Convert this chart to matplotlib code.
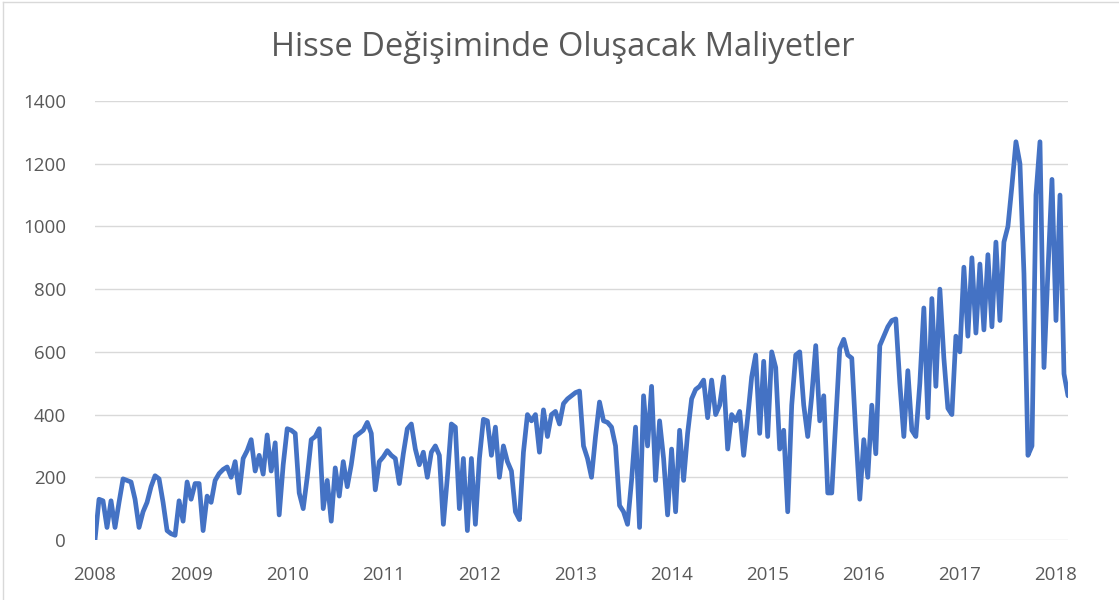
import numpy as np
import matplotlib
matplotlib.use("Agg")
import matplotlib.pyplot as plt
from matplotlib.lines import Line2D

plt.rcParams['font.family'] = ['Open Sans', 'DejaVu Sans']

title = 'Hisse Değişiminde Oluşacak Maliyetler'
year_ticks = list(range(2008, 2019))
y_ticks = [0, 200, 400, 600, 800, 1000, 1200, 1400]

# values, roughly two per month starting Jan 2008
cost_2008 = [0, 130, 125, 40, 125, 40, 120, 195, 190, 185, 130, 40,
             90, 120, 170, 205, 195, 120, 30, 20, 15, 125, 60, 185]
cost_2009 = [130, 180, 180, 30, 140, 120, 190, 212, 225, 233, 200, 250,
             150, 260, 285, 320, 220, 270, 210, 335, 220, 310, 80, 240]
cost_2010 = [355, 350, 340, 150, 100, 200, 320, 330, 355, 100, 190, 60,
             230, 140, 250, 170, 240, 330, 340, 350, 375, 340, 160, 250]
cost_2011 = [265, 285, 270, 260, 180, 275, 355, 370, 290, 240, 280, 200,
             280, 300, 270, 50, 200, 370, 360, 100, 260, 30, 260, 50]
cost_2012 = [260, 385, 380, 270, 360, 200, 300, 250, 220, 90, 65, 280,
             400, 380, 400, 280, 415, 330, 400, 410, 370, 435, 450, 460]
cost_2013 = [470, 475, 300, 260, 200, 330, 440, 380, 375, 360, 300, 110,
             90, 50, 190, 360, 40, 460, 300, 490, 190, 380, 260, 80]
cost_2014 = [290, 90, 350, 190, 340, 450, 480, 490, 510, 390, 510, 400,
             430, 520, 290, 400, 380, 410, 270, 390, 520, 590, 340, 570]
cost_2015 = [330, 600, 550, 290, 350, 90, 430, 590, 600, 430, 330, 460,
             620, 380, 460, 150, 150, 380, 610, 640, 590, 580, 340, 130]
cost_2016 = [320, 200, 430, 275, 620, 650, 680, 700, 705, 500, 330, 540,
             350, 330, 500, 740, 390, 770, 490, 800, 580, 420, 400, 650]
cost_2017 = [600, 870, 650, 900, 660, 880, 670, 910, 680, 950, 700, 950,
             1000, 1130, 1270, 1200, 850, 270, 300, 1100, 1270, 550, 860, 1150]
cost_2018 = [700, 1100, 530, 460]

values = np.array(cost_2008 + cost_2009 + cost_2010 + cost_2011 + cost_2012 +
                  cost_2013 + cost_2014 + cost_2015 + cost_2016 + cost_2017 +
                  cost_2018)
dates = 2008 + np.arange(len(values)) / 24

fig = plt.figure(figsize=(11.19, 6.0), dpi=100)
ax = fig.add_axes([95 / 1119, 60 / 600, 973 / 1119, 439 / 600])

ax.plot(dates, values, color='#4472C4', linewidth=3.4,
        solid_joinstyle='round', solid_capstyle='round', zorder=3)

ax.set_xlim(2008, dates[-1])
ax.set_ylim(0, 1400)
ax.set_yticks(y_ticks)
ax.set_xticks(year_ticks)
ax.set_xticklabels([str(y) for y in year_ticks])
ax.grid(axis='y', color='#d9d9d9', linewidth=1.0, zorder=0)
for s in ax.spines.values():
    s.set_visible(False)
ax.tick_params(axis='both', length=0, labelsize=13.5, colors='#595959')
ax.tick_params(axis='y', pad=21)
ax.tick_params(axis='x', pad=19)

fig.text(563 / 1119, 1 - 47 / 600, title, ha='center', va='center',
         fontsize=23.5, color='#595959')

# chart area border
fig.add_artist(Line2D([3 / 1119, 3 / 1119], [0, 1 - 2 / 600],
                      transform=fig.transFigure, color='#d9d9d9', lw=1))
fig.add_artist(Line2D([3 / 1119, 1], [1 - 2 / 600, 1 - 2 / 600],
                      transform=fig.transFigure, color='#d9d9d9', lw=1))

fig.savefig('out.png', dpi=100)
